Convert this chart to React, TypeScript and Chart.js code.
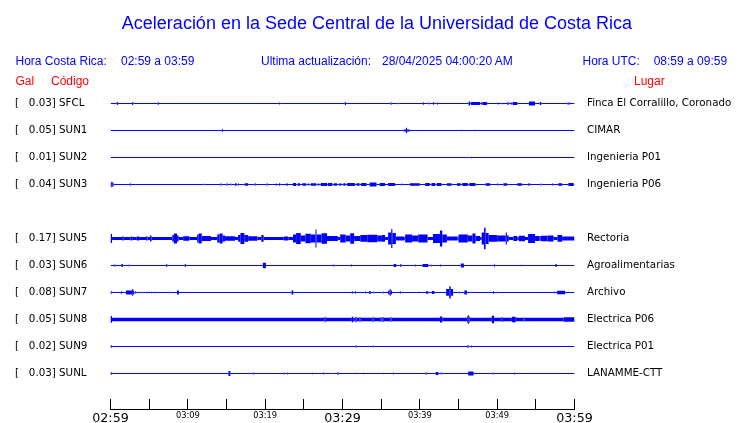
import React, { useEffect, useRef } from 'react';
import { Chart, registerables } from 'chart.js';

Chart.register(...registerables);

// ---- texts ----
const TITLE = 'Aceleración en la Sede Central de la Universidad de Costa Rica';
const LOCAL_RANGE = '02:59 a 03:59';
const UTC_RANGE = '08:59 a 09:59';
const UPDATED = '28/04/2025 04:00:20 AM';

// ---- stations (SUN4 has no data in this window) ----
const CODES = ['SFCL', 'SUN1', 'SUN2', 'SUN3', 'SUN4', 'SUN5', 'SUN6', 'SUN7', 'SUN8', 'SUN9', 'SUNL'];
const PLACES = ['Finca El Corralillo, Coronado', 'CIMAR', 'Ingenieria P01', 'Ingenieria P06', '', 'Rectoria', 'Agroalimentarias', 'Archivo', 'Electrica P06', 'Electrica P01', 'LANAMME-CTT'];
const PEAK_GAL: (number | null)[] = [0.03, 0.05, 0.01, 0.04, null, 0.17, 0.03, 0.08, 0.05, 0.02, 0.03];
// background noise amplitude of each trace (1 = half the spacing between traces)
const NOISE_FLOOR = [0, 0, 0, 0, 0, 0.11, 0, 0, 0.13, 0, 0];

// x axis: minutes after 02:59, tick every 5 minutes
const X_TICK_LABELS = ['02:59', '', '03:09', '', '03:19', '', '03:29', '', '03:39', '', '03:49', '', '03:59'];

// events per trace: [start minute, end minute, amplitude]
const SFCL = [[0.8, 0.95, 0.12], [2.8, 2.95, 0.12], [6.1, 6.25, 0.1], [21.8, 21.95, 0.07], [30.3, 30.45, 0.12], [36.2, 36.35, 0.1], [37.1, 37.23, 0.05], [40.4, 40.53, 0.1], [41.1, 41.23, 0.08], [41.7, 41.83, 0.1], [42.2, 42.33, 0.08], [46.3, 46.5, 0.15], [46.6, 47.8, 0.12], [47.9, 48.1, 0.08], [48.1, 48.7, 0.12], [50.1, 50.23, 0.08], [50.6, 50.73, 0.06], [51.3, 51.5, 0.1], [51.7, 51.9, 0.08], [52.0, 52.6, 0.12], [54.1, 54.9, 0.15], [55.5, 55.7, 0.12], [59.1, 59.23, 0.1], [59.3, 59.43, 0.08]];
const SUN1 = [[14.4, 14.55, 0.1], [37.9, 38.2, 0.08], [38.2, 38.35, 0.2], [38.35, 38.7, 0.08], [45.3, 45.43, 0.05], [47.15, 47.28, 0.06]];
const SUN2 = [[46.15, 46.28, 0.05], [46.6, 46.73, 0.05]];
const SUN3 = [[0.0, 0.1, 0.15], [0.1, 0.25, 0.2], [0.25, 0.4, 0.15], [2.5, 2.63, 0.1], [12.0, 12.13, 0.05], [14.2, 14.33, 0.1], [15.0, 15.13, 0.1], [15.5, 15.63, 0.08], [16.1, 16.3, 0.1], [16.5, 16.63, 0.08], [17.35, 17.8, 0.1], [18.65, 18.78, 0.1], [20.2, 20.33, 0.1], [21.4, 21.53, 0.08], [21.8, 21.95, 0.1], [22.7, 22.95, 0.08], [23.6, 24.0, 0.12], [24.2, 24.5, 0.1], [24.8, 25.3, 0.1], [25.5, 25.7, 0.08], [25.9, 26.6, 0.1], [26.8, 27.0, 0.08], [27.2, 28.0, 0.12], [28.1, 28.7, 0.12], [28.9, 29.3, 0.1], [29.5, 29.9, 0.08], [30.1, 30.4, 0.1], [30.6, 31.6, 0.12], [31.8, 32.2, 0.1], [32.4, 33.1, 0.12], [33.5, 34.4, 0.15], [34.8, 35.5, 0.12], [35.9, 36.8, 0.12], [37.6, 37.73, 0.08], [38.7, 40.0, 0.1], [40.7, 41.3, 0.12], [41.5, 42.0, 0.12], [42.2, 42.8, 0.12], [43.5, 44.1, 0.1], [44.8, 45.3, 0.1], [45.5, 46.2, 0.12], [46.4, 47.2, 0.12], [48.5, 49.1, 0.1], [50.0, 50.13, 0.08], [50.8, 51.3, 0.1], [52.6, 53.2, 0.1], [54.0, 54.3, 0.08], [55.6, 55.73, 0.08], [57.1, 57.23, 0.08], [57.9, 58.4, 0.1], [59.2, 59.9, 0.12]];
const SUN4: number[][] = [];
const SUN5 = [[0.0, 0.2, 0.33], [1.5, 1.7, 0.15], [2.6, 2.8, 0.15], [3.4, 3.7, 0.15], [4.6, 4.8, 0.15], [5.1, 5.3, 0.22], [8.0, 8.2, 0.25], [8.2, 8.6, 0.37], [8.6, 8.8, 0.22], [9.4, 10.2, 0.17], [11.2, 11.4, 0.3], [11.4, 11.8, 0.37], [11.8, 13.0, 0.18], [13.8, 14.1, 0.3], [14.1, 14.5, 0.37], [14.5, 14.8, 0.22], [14.8, 16.1, 0.17], [16.5, 16.8, 0.25], [16.8, 17.3, 0.4], [17.3, 17.8, 0.25], [17.8, 19.0, 0.16], [19.5, 19.8, 0.25], [22.4, 23.0, 0.14], [23.6, 24.0, 0.3], [24.0, 24.6, 0.4], [24.6, 25.2, 0.22], [25.2, 25.9, 0.35], [25.9, 26.5, 0.3], [26.5, 26.63, 0.67], [26.63, 27.3, 0.3], [27.3, 28.0, 0.38], [28.0, 29.4, 0.18], [29.7, 30.4, 0.3], [30.4, 31.0, 0.22], [31.0, 31.5, 0.38], [31.5, 32.3, 0.18], [32.3, 33.2, 0.25], [33.2, 34.5, 0.28], [34.5, 35.1, 0.22], [35.1, 35.5, 0.25], [35.9, 36.3, 0.45], [36.3, 36.45, 0.7], [36.45, 36.9, 0.4], [36.9, 38.0, 0.15], [38.1, 39.0, 0.3], [39.0, 39.8, 0.22], [39.8, 41.0, 0.3], [41.7, 42.6, 0.33], [42.6, 42.9, 0.6], [42.9, 43.5, 0.3], [43.5, 44.9, 0.15], [45.0, 46.2, 0.3], [46.2, 46.8, 0.22], [46.8, 47.2, 0.37], [47.2, 47.8, 0.18], [48.0, 48.3, 0.45], [48.3, 48.5, 0.8], [48.5, 48.9, 0.4], [48.9, 50.0, 0.25], [50.0, 51.1, 0.22], [51.1, 51.25, 0.45], [51.25, 51.5, 0.22], [52.1, 52.6, 0.18], [52.8, 53.6, 0.2], [54.0, 54.9, 0.33], [54.9, 55.5, 0.18], [55.6, 56.5, 0.2], [56.5, 57.3, 0.22], [57.8, 58.4, 0.25], [58.4, 60.0, 0.15]];
const SUN6 = [[0.5, 0.63, 0.1], [1.4, 1.6, 0.12], [2.35, 2.48, 0.08], [7.2, 7.33, 0.12], [9.6, 9.75, 0.12], [19.7, 20.1, 0.2], [28.8, 28.93, 0.08], [31.1, 31.23, 0.08], [34.75, 34.88, 0.05], [36.6, 36.95, 0.12], [37.45, 37.65, 0.1], [39.35, 39.48, 0.08], [40.35, 41.1, 0.12], [41.4, 41.53, 0.08], [42.6, 42.73, 0.08], [45.3, 45.7, 0.14], [49.6, 49.73, 0.1], [53.1, 53.23, 0.06], [57.5, 57.75, 0.1]];
const SUN7 = [[0.0, 0.15, 0.12], [1.35, 1.48, 0.1], [2.0, 2.8, 0.15], [2.8, 2.93, 0.25], [2.93, 3.05, 0.15], [3.2, 3.33, 0.1], [3.6, 3.73, 0.06], [4.15, 4.28, 0.06], [4.7, 4.83, 0.06], [5.25, 5.38, 0.06], [5.65, 5.78, 0.06], [7.6, 7.73, 0.05], [8.6, 8.85, 0.15], [23.4, 23.65, 0.15], [31.2, 31.33, 0.1], [31.6, 31.73, 0.1], [32.9, 33.03, 0.08], [33.45, 33.65, 0.12], [34.0, 34.13, 0.08], [35.2, 35.33, 0.08], [35.9, 36.1, 0.15], [36.1, 36.23, 0.25], [36.23, 36.4, 0.15], [37.4, 37.53, 0.1], [39.9, 40.03, 0.06], [40.8, 41.1, 0.1], [41.55, 41.9, 0.12], [43.4, 43.8, 0.25], [43.8, 44.0, 0.45], [44.0, 44.3, 0.25], [45.0, 45.13, 0.08], [45.75, 46.1, 0.14], [46.7, 46.83, 0.06], [49.45, 49.58, 0.1], [49.95, 50.08, 0.06], [57.3, 57.43, 0.08], [57.75, 58.8, 0.13]];
const SUN8 = [[0.0, 0.2, 0.25], [27.7, 27.83, 0.2], [31.2, 31.4, 0.2], [31.7, 31.83, 0.2], [32.2, 32.33, 0.18], [33.9, 34.03, 0.18], [34.9, 35.03, 0.18], [35.2, 35.33, 0.18], [36.2, 36.33, 0.18], [42.6, 42.9, 0.22], [46.1, 46.2, 0.22], [46.2, 46.33, 0.33], [46.33, 46.45, 0.22], [49.3, 49.6, 0.28], [50.6, 50.73, 0.18], [51.9, 52.4, 0.2], [53.4, 53.53, 0.15], [58.6, 60.0, 0.16]];
const SUN9 = [[0.0, 0.15, 0.12], [31.7, 31.83, 0.1], [33.9, 34.03, 0.08], [46.15, 46.28, 0.12], [46.6, 46.73, 0.08]];
const SUNL = [[0.0, 0.15, 0.12], [15.25, 15.5, 0.18], [18.4, 18.53, 0.08], [22.4, 22.53, 0.07], [22.8, 22.93, 0.07], [26.05, 26.18, 0.06], [27.5, 27.63, 0.08], [28.55, 28.68, 0.06], [29.35, 29.48, 0.12], [31.6, 31.73, 0.06], [32.65, 32.78, 0.06], [35.25, 35.38, 0.06], [36.55, 36.68, 0.08], [40.75, 40.88, 0.1], [42.05, 42.4, 0.12], [42.7, 42.83, 0.08], [46.25, 46.95, 0.15], [49.4, 49.53, 0.08], [52.2, 52.33, 0.08]];

const EVENTS = [SFCL, SUN1, SUN2, SUN3, SUN4, SUN5, SUN6, SUN7, SUN8, SUN9, SUNL];

const BLUE = '#0000ff';
const RED = '#ff0000';

function buildPoints(k: number, events: number[][], floor: number) {
  const y = -k;
  const pts: { x: number; y: number; a: number }[] = [{ x: 0, y, a: floor }];
  for (const [t0, t1, a] of events) {
    pts.push({ x: t0, y, a: Math.max(a, floor) });
    pts.push({ x: t1, y, a: floor });
  }
  pts.push({ x: 60, y, a: floor });
  return pts;
}

const axisPlugin = {
  id: 'seisAxis',
  afterDraw(chart: any) {
    const xs = chart.scales.x;
    const ctx = chart.ctx;
    const bottom = chart.chartArea.bottom;
    ctx.save();
    ctx.strokeStyle = '#000';
    ctx.lineWidth = 1;
    ctx.beginPath();
    ctx.moveTo(Math.floor(xs.left), bottom - 0.5);
    ctx.lineTo(Math.floor(xs.right) + 1, bottom - 0.5);
    xs.ticks.forEach((_: any, i: number) => {
      const px = Math.floor(xs.getPixelForTick(i)) + 0.5;
      ctx.moveTo(px, bottom - 11);
      ctx.lineTo(px, bottom);
    });
    ctx.stroke();
    ctx.restore();
  },
};

function rowTicks(scale: any) {
  scale.ticks = CODES.map((_, k) => k)
    .filter((k) => PEAK_GAL[k] !== null)
    .map((k) => ({ value: -k }));
}

function fixWidth(w: number) {
  return (s: any) => {
    s.width = w;
    s.paddingTop = 0;
    s.paddingBottom = 0;
  };
}

export default function App() {
  const ref = useRef<HTMLCanvasElement>(null);

  useEffect(() => {
    if (!ref.current) return;
    const datasets = CODES.map((code, k) => ({
      label: code,
      data: buildPoints(k, EVENTS[k], NOISE_FLOOR[k]),
      borderColor: BLUE,
      borderWidth: 1,
      borderCapStyle: 'butt',
      pointRadius: 0,
      stepped: 'before',
      hidden: PEAK_GAL[k] === null,
      segment: {
        borderWidth: (ctx: any) => {
          const ys = ctx.chart.scales.y;
          const pxPerAmp = Math.abs(ys.getPixelForValue(0) - ys.getPixelForValue(0.5));
          const d = ctx.chart.data.datasets[ctx.datasetIndex].data[ctx.p0DataIndex];
          return Math.max(1, 2 * d.a * pxPerAmp);
        },
      },
    }));

    const labelFont = { family: '"DejaVu Sans", sans-serif', size: 10.3 };

    const chart = new Chart(ref.current, {
      type: 'line',
      data: { datasets: datasets as any },
      plugins: [axisPlugin],
      options: {
        animation: false,
        responsive: false,
        devicePixelRatio: 1,
        events: [],
        layout: { padding: { left: 15, right: 0, top: 90, bottom: 0 } },
        plugins: { legend: { display: false }, tooltip: { enabled: false } },
        scales: {
          x: {
            type: 'linear',
            min: 0,
            max: 60,
            grid: { display: false, drawTicks: false, tickLength: 0 },
            border: { display: false },
            afterFit: (s: any) => {
              s.height = 13;
              s.paddingLeft = 0;
              s.paddingRight = 0;
            },
            ticks: {
              stepSize: 5,
              autoSkip: false,
              maxRotation: 0,
              padding: 1.5,
              color: '#000',
              callback: (_v: any, i: number) => X_TICK_LABELS[i],
              font: (c: any) =>
                c.tick && c.tick.value % 30 === 0
                  ? { family: '"DejaVu Sans", sans-serif', size: 12.7, lineHeight: 1.2 }
                  : { family: '"DejaVu Sans", sans-serif', size: 8.3, lineHeight: 0.94 },
            },
          },
          y: {
            type: 'linear',
            position: 'left',
            min: -11.352,
            max: 0.5,
            grid: { display: false, drawTicks: false, tickLength: 0 },
            border: { display: false },
            afterBuildTicks: rowTicks,
            afterFit: fixWidth(95.5),
            ticks: {
              autoSkip: false,
              crossAlign: 'far',
              padding: 0,
              color: '#000',
              font: labelFont,
              callback: (v: any) => {
                const k = Math.round(-v);
                return `[   ${(PEAK_GAL[k] as number).toFixed(2)}] ${CODES[k]}`;
              },
            },
          },
          y2: {
            type: 'linear',
            position: 'right',
            min: -11.352,
            max: 0.5,
            grid: { display: false, drawTicks: false, tickLength: 0 },
            border: { display: false },
            afterBuildTicks: rowTicks,
            afterFit: fixWidth(165.5),
            ticks: {
              autoSkip: false,
              crossAlign: 'near',
              padding: 12.5,
              color: '#000',
              font: labelFont,
              callback: (v: any) => PLACES[Math.round(-v)],
            },
          },
        },
      } as any,
    });
    return () => chart.destroy();
  }, []);

  const sans = '"Liberation Sans", Arial, sans-serif';
  const txt = (left: number, top: number, color: string, s: string) => (
    <span
      style={{
        position: 'absolute',
        left,
        top,
        fontFamily: sans,
        fontSize: 12,
        lineHeight: '12px',
        color,
        whiteSpace: 'pre',
      }}
    >
      {s}
    </span>
  );

  return (
    <div style={{ position: 'absolute', left: 0, top: 0, width: 740, height: 423, overflow: 'hidden', background: '#fff' }}>
      <canvas ref={ref} width={740} height={423} style={{ position: 'absolute', left: 0, top: 0, width: 740, height: 423 }} />
      <div
        style={{
          position: 'absolute',
          left: 0,
          top: 13.8,
          width: 754,
          textAlign: 'center',
          fontFamily: sans,
          fontSize: 18,
          lineHeight: '18px',
          color: BLUE,
          whiteSpace: 'pre',
        }}
      >
        {TITLE}
      </div>
      {txt(15.5, 54.8, BLUE, 'Hora Costa Rica:')}
      {txt(121, 54.8, BLUE, LOCAL_RANGE)}
      {txt(261, 54.8, BLUE, 'Ultima actualización:')}
      {txt(382, 54.8, BLUE, UPDATED)}
      {txt(582.5, 54.8, BLUE, 'Hora UTC:')}
      {txt(653.7, 54.8, BLUE, UTC_RANGE)}
      {txt(15.5, 74.8, RED, 'Gal')}
      {txt(51, 74.8, RED, 'Código')}
      {txt(634, 74.8, RED, 'Lugar')}
    </div>
  );
}
